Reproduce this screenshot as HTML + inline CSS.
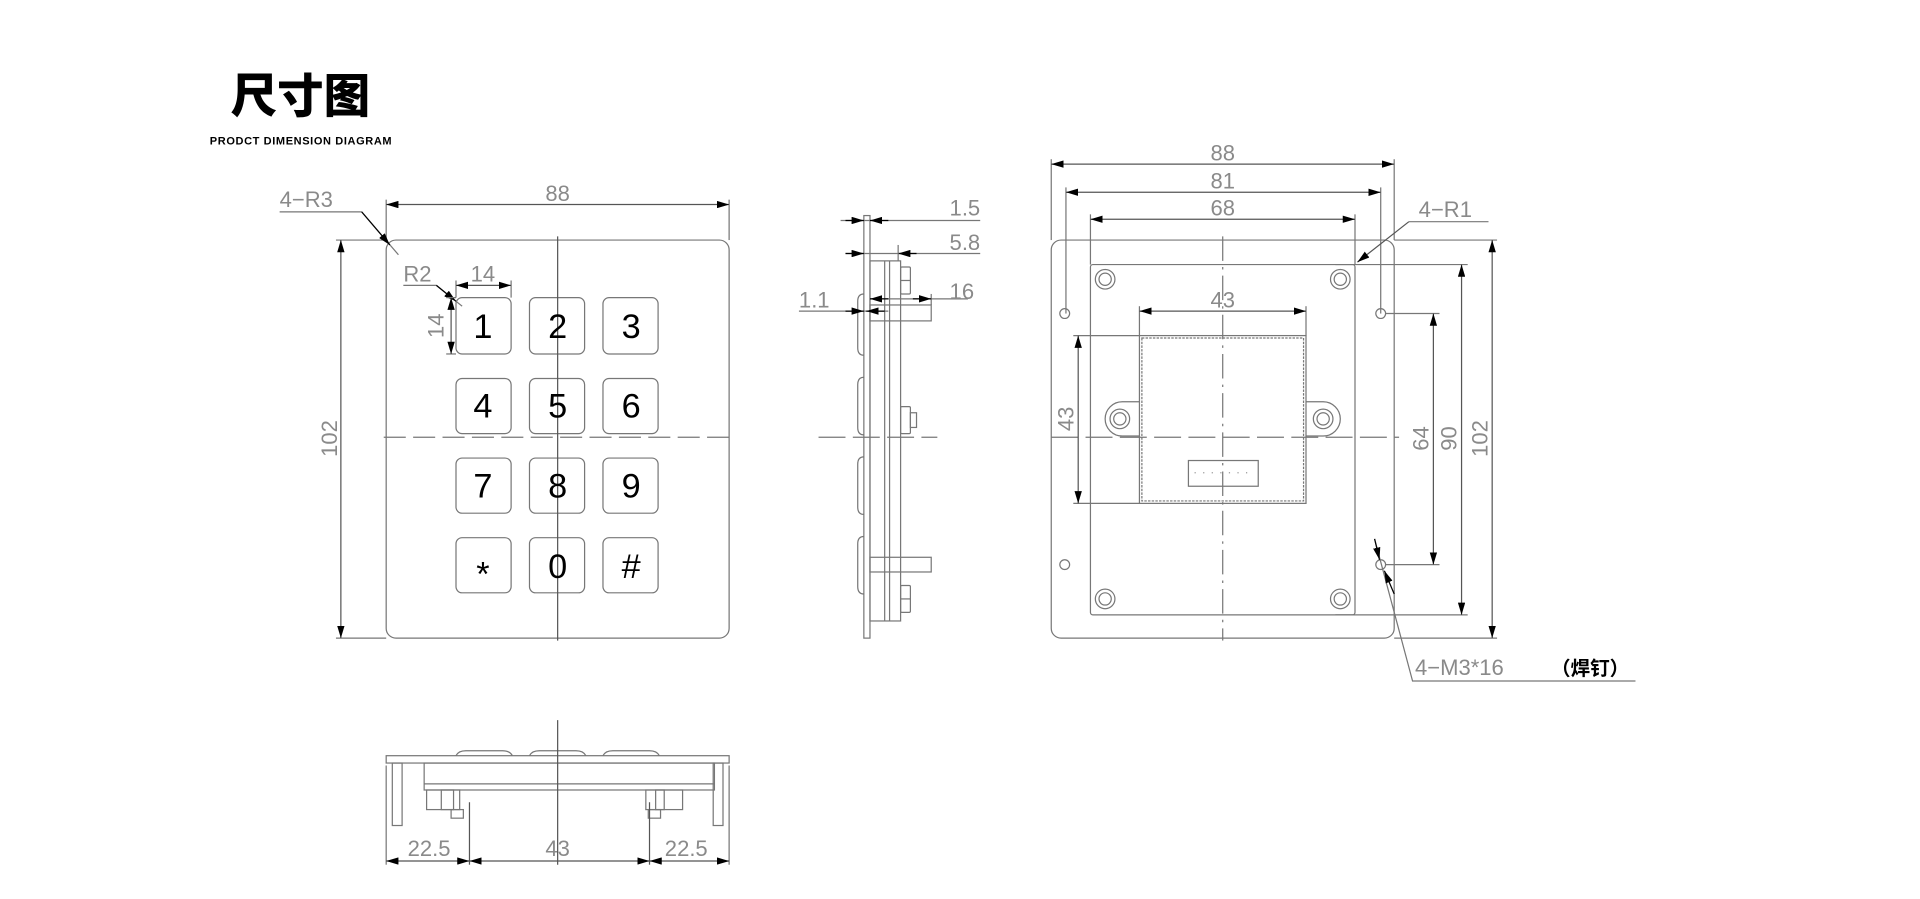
<!DOCTYPE html>
<html><head><meta charset="utf-8"><style>
html,body{margin:0;padding:0;background:#fff;}
svg{display:block;}
.t{font-family:"Liberation Sans","Noto Sans CJK SC",sans-serif;fill:#8a8a8a;font-size:18px;}
.k{font-family:"Liberation Sans",sans-serif;fill:#000;font-size:28px;text-anchor:middle;}
</style></head><body>
<svg width="1920" height="899" viewBox="0 0 1567 734" xmlns="http://www.w3.org/2000/svg">
<defs>
<marker id="a" viewBox="0 0 10 6" refX="10" refY="3" markerWidth="10" markerHeight="6" markerUnits="userSpaceOnUse" orient="auto-start-reverse"><path d="M0,0L10,3L0,6z" fill="#000"/></marker>
</defs>
<text x="188" y="92" font-family="'Noto Sans CJK SC',sans-serif" font-weight="900" font-size="38" fill="#000">尺寸图</text>
<text x="171" y="118" font-family="'Liberation Sans','Noto Sans CJK SC',sans-serif" font-weight="bold" font-size="9" letter-spacing="0.5" fill="#000">PRODCT  DIMENSION  DIAGRAM</text>

<g fill="none" stroke="#777" stroke-width="1">
<!-- FRONT VIEW -->
<rect x="315" y="196" width="280" height="325" rx="8"/>
<g>
<rect x="372" y="243" width="45" height="46" rx="5"/><rect x="432" y="243" width="45" height="46" rx="5"/><rect x="492" y="243" width="45" height="46" rx="5"/>
<rect x="372" y="309" width="45" height="45" rx="5"/><rect x="432" y="309" width="45" height="45" rx="5"/><rect x="492" y="309" width="45" height="45" rx="5"/>
<rect x="372" y="374" width="45" height="45" rx="5"/><rect x="432" y="374" width="45" height="45" rx="5"/><rect x="492" y="374" width="45" height="45" rx="5"/>
<rect x="372" y="439" width="45" height="45" rx="5"/><rect x="432" y="439" width="45" height="45" rx="5"/><rect x="492" y="439" width="45" height="45" rx="5"/>
</g>
<line x1="455" y1="193" x2="455" y2="523" stroke="#555"/>
<line x1="313" y1="357" x2="598" y2="357" stroke-dasharray="18,6"/>
<line x1="315" y1="163" x2="315" y2="196"/><line x1="595" y1="163" x2="595" y2="196"/>
<line x1="315" y1="167" x2="595" y2="167" stroke="#555" marker-start="url(#a)" marker-end="url(#a)"/>
<line x1="274" y1="196" x2="315" y2="196"/><line x1="274" y1="521" x2="315" y2="521"/>
<line x1="278" y1="196" x2="278" y2="521" stroke="#555" marker-start="url(#a)" marker-end="url(#a)"/>
<polyline points="228,173 295,173 325,208"/>
<line x1="295" y1="173" x2="318" y2="200" stroke="#000" marker-end="url(#a)"/>
<polyline points="329,233 356,233 377,250"/>
<line x1="356" y1="233" x2="372" y2="246" stroke="#000" marker-end="url(#a)"/>
<line x1="372" y1="229" x2="372" y2="243"/><line x1="417" y1="229" x2="417" y2="243"/>
<line x1="372" y1="233" x2="417" y2="233" stroke="#555" marker-start="url(#a)" marker-end="url(#a)"/>
<line x1="364" y1="243" x2="372" y2="243"/><line x1="364" y1="289" x2="372" y2="289"/>
<line x1="368" y1="243" x2="368" y2="289" stroke="#555" marker-start="url(#a)" marker-end="url(#a)"/>

<!-- SIDE VIEW -->
<rect x="705" y="176" width="5" height="345"/>
<rect x="710" y="213" width="25" height="294"/>
<line x1="722" y1="213" x2="722" y2="507"/><line x1="726" y1="213" x2="726" y2="507"/>
<path d="M705,240 q-5,0 -5,6 v38 q0,6 5,6"/><path d="M705,308 q-5,0 -5,6 v35 q0,6 5,6"/>
<path d="M705,373 q-5,0 -5,6 v35 q0,6 5,6"/><path d="M705,438 q-5,0 -5,6 v35 q0,6 5,6"/>
<rect x="710" y="249" width="50" height="13"/><rect x="710" y="455" width="50" height="12"/>
<rect x="735" y="218" width="8" height="22" rx="1"/><line x1="735" y1="229" x2="743" y2="229"/>
<rect x="735" y="332" width="8" height="22" rx="1"/><rect x="743" y="337" width="5" height="12"/>
<rect x="735" y="478" width="8" height="22" rx="1"/><line x1="735" y1="489" x2="743" y2="489"/>
<line x1="668" y1="357" x2="765" y2="357" stroke-dasharray="22,6"/>
<line x1="686" y1="180" x2="800" y2="180"/>
<line x1="690" y1="180" x2="705" y2="180" stroke="#000" marker-end="url(#a)"/><line x1="725" y1="180" x2="710" y2="180" stroke="#000" marker-end="url(#a)"/>
<line x1="690" y1="207" x2="800" y2="207"/>
<line x1="690" y1="207" x2="705" y2="207" stroke="#000" marker-end="url(#a)"/><line x1="748" y1="207" x2="733" y2="207" stroke="#000" marker-end="url(#a)"/>
<line x1="733" y1="200" x2="733" y2="213"/>
<line x1="710" y1="244" x2="790" y2="244"/><line x1="760" y1="240" x2="760" y2="249"/>
<line x1="725" y1="244" x2="710" y2="244" stroke="#000" marker-end="url(#a)"/><line x1="745" y1="244" x2="760" y2="244" stroke="#000" marker-end="url(#a)"/>
<line x1="652" y1="254" x2="725" y2="254"/>
<line x1="690" y1="254" x2="705" y2="254" stroke="#000" marker-end="url(#a)"/><line x1="722" y1="254" x2="707" y2="254" stroke="#000" marker-end="url(#a)"/>

<!-- BACK VIEW -->
<rect x="858" y="196" width="280" height="325" rx="8"/>
<rect x="890" y="216" width="216" height="286" rx="2"/>
<g>
<circle cx="902" cy="228" r="8"/><circle cx="902" cy="228" r="5"/>
<circle cx="1094" cy="228" r="8"/><circle cx="1094" cy="228" r="5"/>
<circle cx="902" cy="489" r="8"/><circle cx="902" cy="489" r="5"/>
<circle cx="1094" cy="489" r="8"/><circle cx="1094" cy="489" r="5"/>
<circle cx="914" cy="342" r="8"/><circle cx="914" cy="342" r="5"/>
<circle cx="1080" cy="342" r="8"/><circle cx="1080" cy="342" r="5"/>
<path d="M930,328 h-14 a14,14 0 0 0 0,28 h14"/>
<path d="M1066,328 h14 a14,14 0 0 1 0,28 h-14"/>
<circle cx="869" cy="256" r="4"/><circle cx="1127" cy="256" r="4"/>
<circle cx="869" cy="461" r="4"/><circle cx="1127" cy="461" r="4"/>
</g>
<rect x="930" y="274" width="136" height="137"/>
<rect x="932" y="276" width="132" height="133" stroke-dasharray="2,1"/>
<rect x="970" y="376" width="57" height="21"/>
<g stroke="#999" stroke-dasharray="1,6"><line x1="975" y1="386" x2="1024" y2="386"/></g>
<line x1="998" y1="193" x2="998" y2="523" stroke-dasharray="20,5,2,5"/>
<line x1="858" y1="357" x2="1142" y2="357" stroke-dasharray="22,6"/>
<line x1="858" y1="130" x2="858" y2="196"/><line x1="1138" y1="130" x2="1138" y2="196"/>
<line x1="858" y1="134" x2="1138" y2="134" stroke="#555" marker-start="url(#a)" marker-end="url(#a)"/>
<line x1="870" y1="153" x2="870" y2="256"/><line x1="1127" y1="153" x2="1127" y2="256"/>
<line x1="870" y1="157" x2="1127" y2="157" stroke="#555" marker-start="url(#a)" marker-end="url(#a)"/>
<line x1="890" y1="175" x2="890" y2="216"/><line x1="1106" y1="175" x2="1106" y2="216"/>
<line x1="890" y1="179" x2="1106" y2="179" stroke="#555" marker-start="url(#a)" marker-end="url(#a)"/>
<line x1="930" y1="250" x2="930" y2="274"/><line x1="1066" y1="250" x2="1066" y2="274"/>
<line x1="930" y1="254" x2="1066" y2="254" stroke="#555" marker-start="url(#a)" marker-end="url(#a)"/>
<line x1="876" y1="274" x2="930" y2="274"/><line x1="876" y1="411" x2="930" y2="411"/>
<line x1="880" y1="274" x2="880" y2="411" stroke="#555" marker-start="url(#a)" marker-end="url(#a)"/>
<line x1="1131" y1="256" x2="1175" y2="256"/><line x1="1131" y1="461" x2="1175" y2="461"/>
<line x1="1170" y1="256" x2="1170" y2="461" stroke="#555" marker-start="url(#a)" marker-end="url(#a)"/>
<line x1="1090" y1="216" x2="1198" y2="216"/><line x1="1090" y1="502" x2="1198" y2="502"/>
<line x1="1193" y1="216" x2="1193" y2="502" stroke="#555" marker-start="url(#a)" marker-end="url(#a)"/>
<line x1="1138" y1="196" x2="1222" y2="196"/><line x1="1138" y1="521" x2="1222" y2="521"/>
<line x1="1218" y1="196" x2="1218" y2="521" stroke="#555" marker-start="url(#a)" marker-end="url(#a)"/>
<polyline points="1150,181 1215,181"/>
<line x1="1150" y1="181" x2="1108" y2="214" stroke="#555" marker-end="url(#a)"/>
<polyline points="1335,556 1153,556 1122,440"/>
<line x1="1122" y1="440" x2="1126" y2="457" stroke="#000" marker-end="url(#a)"/>
<line x1="1138" y1="485" x2="1130" y2="466" stroke="#000" marker-end="url(#a)"/>

<!-- BOTTOM VIEW -->
<rect x="315" y="617" width="280" height="6"/>
<path d="M372,617 q2,-4 8,-4 h30 q6,0 8,4"/><path d="M432,617 q2,-4 8,-4 h30 q6,0 8,4"/><path d="M492,617 q2,-4 8,-4 h30 q6,0 8,4"/>
<rect x="346" y="623" width="237" height="22"/><line x1="346" y1="640" x2="583" y2="640"/>
<rect x="320" y="623" width="8" height="51"/><rect x="582" y="623" width="8" height="51"/>
<rect x="348" y="645" width="22" height="16"/><rect x="360" y="645" width="15" height="16"/><rect x="368" y="661" width="10" height="7"/>
<rect x="527" y="645" width="15" height="16"/><rect x="535" y="645" width="22" height="16"/><rect x="529" y="661" width="10" height="7"/>
<line x1="455" y1="588" x2="455" y2="706" stroke="#555"/>
<line x1="315" y1="625" x2="315" y2="706"/><line x1="595" y1="625" x2="595" y2="706"/>
<line x1="383" y1="655" x2="383" y2="706" stroke="#555"/><line x1="530" y1="655" x2="530" y2="706" stroke="#555"/>
<line x1="315" y1="703" x2="383" y2="703" stroke="#555" marker-start="url(#a)" marker-end="url(#a)"/>
<line x1="383" y1="703" x2="530" y2="703" stroke="#555" marker-start="url(#a)" marker-end="url(#a)"/>
<line x1="530" y1="703" x2="595" y2="703" stroke="#555" marker-start="url(#a)" marker-end="url(#a)"/>
</g>

<!-- labels -->
<text class="t" x="455" y="164" text-anchor="middle">88</text>
<text class="t" transform="translate(275,358) rotate(-90)" text-anchor="middle">102</text>
<text class="t" x="228" y="169">4−R3</text>
<text class="t" x="329" y="230" font-size="16">R2</text>
<text class="t" x="394" y="230" font-size="16" text-anchor="middle">14</text>
<text class="t" transform="translate(362,266) rotate(-90)" font-size="16" text-anchor="middle">14</text>
<text class="k" x="394" y="276">1</text><text class="k" x="455" y="276">2</text><text class="k" x="515" y="276">3</text>
<text class="k" x="394" y="341">4</text><text class="k" x="455" y="341">5</text><text class="k" x="515" y="341">6</text>
<text class="k" x="394" y="406">7</text><text class="k" x="455" y="406">8</text><text class="k" x="515" y="406">9</text>
<text class="k" x="394" y="478">*</text><text class="k" x="455" y="472">0</text><text class="k" x="515" y="472">#</text>
<text class="t" x="800" y="176" text-anchor="end">1.5</text>
<text class="t" x="800" y="204" text-anchor="end">5.8</text>
<text class="t" x="795" y="244" text-anchor="end">16</text>
<text class="t" x="652" y="251">1.1</text>
<text class="t" x="998" y="131" text-anchor="middle">88</text>
<text class="t" x="998" y="154" text-anchor="middle">81</text>
<text class="t" x="998" y="176" text-anchor="middle">68</text>
<text class="t" x="998" y="251" text-anchor="middle">43</text>
<text class="t" transform="translate(876,342) rotate(-90)" text-anchor="middle">43</text>
<text class="t" transform="translate(1166,358) rotate(-90)" text-anchor="middle">64</text>
<text class="t" transform="translate(1189,358) rotate(-90)" text-anchor="middle">90</text>
<text class="t" transform="translate(1214,358) rotate(-90)" text-anchor="middle">102</text>
<text class="t" x="1158" y="177">4−R1</text>
<text class="t" x="1155" y="551">4−M3*16</text>
<text x="1266" y="551" font-family="'Noto Sans CJK SC',sans-serif" font-weight="bold" font-size="16" fill="#000">（焊钉）</text>
<text class="t" x="350" y="699" text-anchor="middle">22.5</text>
<text class="t" x="455" y="699" text-anchor="middle">43</text>
<text class="t" x="560" y="699" text-anchor="middle">22.5</text>
</svg>
</body></html>
